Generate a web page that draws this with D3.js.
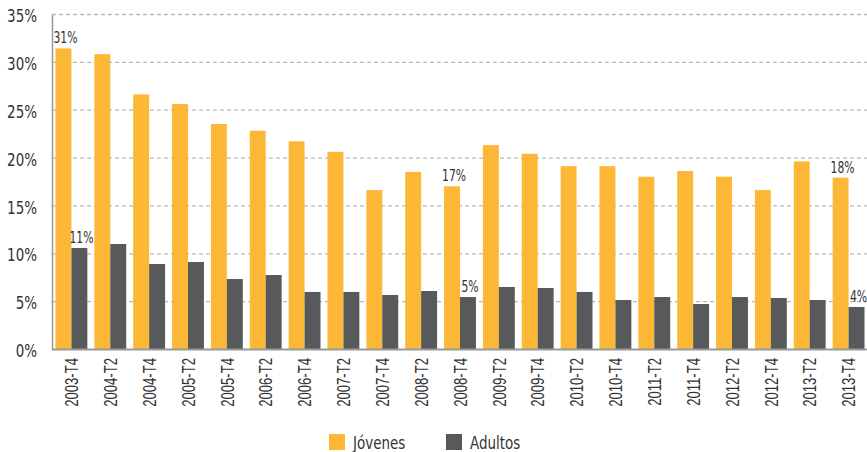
<!DOCTYPE html>
<html>
<head>
<meta charset="utf-8">
<script src="https://cdn.jsdelivr.net/npm/d3@7"></script>
<style>
  body { margin: 0; background: #fff; }
  .narrow { font-family: "DejaVu Sans Condensed", "DejaVu Sans", sans-serif; fill: #333; }
  .xlab { font-family: "Liberation Sans", Arial, sans-serif; font-size: 19px; fill: #333; }
</style>
</head>
<body>
<svg id="chart"></svg>
<script>
var width = 867,
    height = 452;

var margin = {top: 14, left: 52, right: -1, bottom: 103};

// Categories and series values (%)
var periods = ["2003-T4", "2004-T2", "2004-T4", "2005-T2", "2005-T4", "2006-T2", "2006-T4",
  "2007-T2", "2007-T4", "2008-T2", "2008-T4", "2009-T2", "2009-T4", "2010-T2", "2010-T4",
  "2011-T2", "2011-T4", "2012-T2", "2012-T4", "2013-T2", "2013-T4"];

var jovenes = [31.4, 30.8, 26.6, 25.6, 23.5, 22.8, 21.7, 20.6, 16.6, 18.5, 17.0,
  21.3, 20.4, 19.1, 19.1, 18.0, 18.6, 18.0, 16.6, 19.6, 17.9];

var adultos = [10.55, 10.97, 8.88, 9.09, 7.31, 7.73, 5.96, 5.96, 5.64, 6.06, 5.43,
  6.48, 6.37, 5.96, 5.12, 5.43, 4.70, 5.43, 5.33, 5.12, 4.39];

var seriesNames = ["Jóvenes", "Adultos"];
var seriesColors = ["#fbb735", "#58595b"];

var yTicks = [0, 5, 10, 15, 20, 25, 30, 35];

// which periods get value labels
var labelled = ["2003-T4", "2008-T4", "2013-T4"];

var svg = d3.select("#chart")
    .attr("width", width)
    .attr("height", height);

var x = d3.scaleBand()
    .domain(periods)
    .range([margin.left, width - margin.right])
    .paddingInner(0.18)
    .paddingOuter(0.09);

var x1 = d3.scaleBand()
    .domain(seriesNames)
    .range([0, x.bandwidth()]);

var y = d3.scaleLinear()
    .domain([0, 35])
    .range([height - margin.bottom, margin.top]);

// gridlines
svg.append("g")
  .selectAll("line")
  .data(yTicks.filter(function(d) { return d > 0; }))
  .enter().append("line")
    .attr("x1", margin.left)
    .attr("x2", width)
    .attr("y1", function(d) { return y(d) + 0.5; })
    .attr("y2", function(d) { return y(d) + 0.5; })
    .style("stroke", "#b8b8b8")
    .style("stroke-width", 1.3)
    .style("stroke-dasharray", "4,3");

var rows = periods.map(function(p, i) {
  return {period: p, values: [jovenes[i], adultos[i]]};
});

var groups = svg.append("g")
  .selectAll("g")
  .data(rows)
  .enter().append("g")
    .attr("transform", function(d) { return "translate(" + x(d.period) + ",0)"; });

groups.selectAll("rect")
  .data(function(d) {
    return d.values.map(function(v, k) { return {name: seriesNames[k], value: v, color: seriesColors[k]}; });
  })
  .enter().append("rect")
    .attr("x", function(d) { return x1(d.name); })
    .attr("width", x1.bandwidth())
    .attr("y", function(d) { return y(d.value); })
    .attr("height", function(d) { return y(0) - y(d.value); })
    .style("fill", function(d) { return d.color; });

// value labels (squeezed horizontally to mimic a condensed face)
groups.filter(function(d) { return labelled.indexOf(d.period) >= 0; })
  .selectAll("text")
  .data(function(d) {
    return d.values.map(function(v, k) { return {name: seriesNames[k], value: v}; });
  })
  .enter().append("text")
    .attr("class", "narrow")
    .attr("transform", function(d) {
      return "translate(" + (x1(d.name) + x1.bandwidth() / 2 + 2) + "," + (y(d.value) - 5) + ") scale(0.8,1)";
    })
    .attr("text-anchor", "middle")
    .style("font-size", "15px")
    .text(function(d) { return Math.round(d.value) + "%"; });

// y axis
var yAxis = svg.append("g")
    .attr("transform", "translate(" + margin.left + ",0)")
    .call(d3.axisLeft(y).tickValues(yTicks).tickSize(0).tickPadding(15)
      .tickFormat(function(d) { return d + "%"; }));
yAxis.select(".domain").style("stroke", "#999").style("stroke-width", 1.5);
yAxis.selectAll("text")
    .attr("class", "narrow")
    .attr("x", -15 / 0.88)
    .attr("dy", "0.45em")
    .attr("transform", "scale(0.88,1)")
    .style("font-size", "17px")
    .style("font-family", null);

// x axis
var xAxis = svg.append("g")
    .attr("transform", "translate(0," + y(0) + ")")
    .call(d3.axisBottom(x).tickSize(0).tickSizeOuter(0));
xAxis.select(".domain")
    .attr("d", "M" + margin.left + ",0.5H" + width)
    .style("stroke", "#999")
    .style("stroke-width", 2);
xAxis.selectAll("text")
    .attr("class", "xlab")
    .style("font-family", null)
    .style("font-size", null)
    .attr("text-anchor", "end")
    .attr("transform", "rotate(-90) scale(0.69,1)")
    .attr("x", -9 / 0.69)
    .attr("y", 0)
    .attr("dy", "0.35em");

// legend
var legend = svg.append("g")
    .attr("transform", "translate(329,434)");
var items = legend.selectAll("g")
  .data(seriesNames)
  .enter().append("g")
    .attr("transform", function(d, i) { return "translate(" + (i * 117) + ",0)"; });
items.append("rect")
    .attr("width", 16)
    .attr("height", 16)
    .style("fill", function(d, i) { return seriesColors[i]; });
items.append("text")
    .attr("class", "narrow")
    .attr("transform", "translate(24,15) scale(0.88,1)")
    .style("font-size", "17px")
    .text(function(d) { return d; });
</script>
</body>
</html>
